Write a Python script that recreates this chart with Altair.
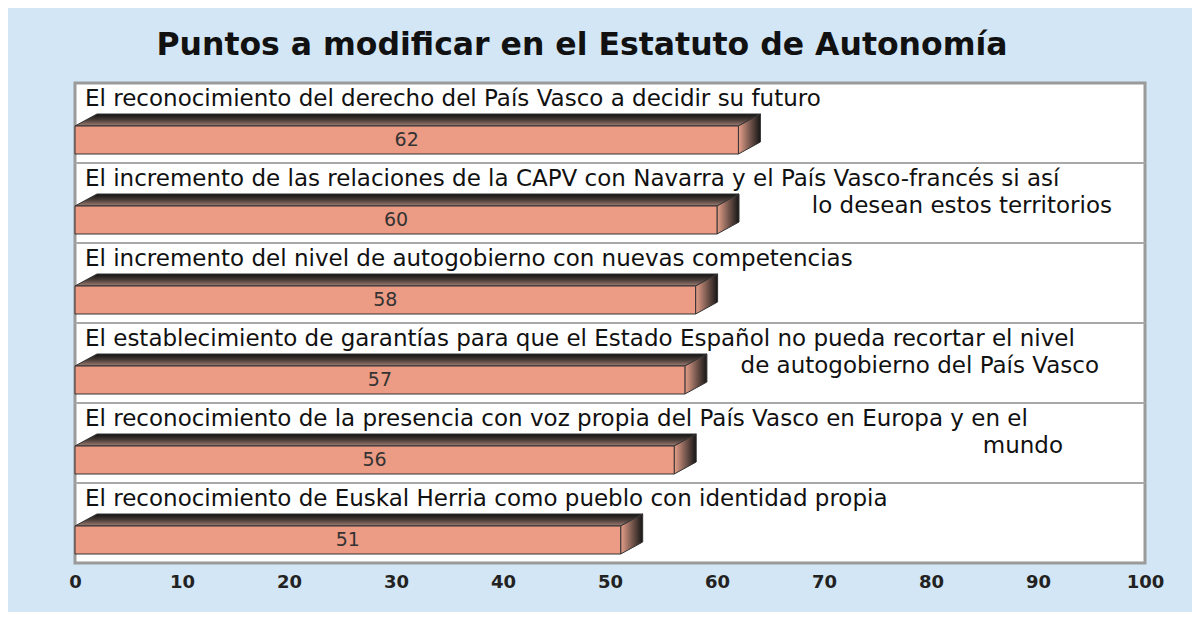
import altair as alt
import pandas as pd

# ---- data ----
label_line1 = [
    "El reconocimiento del derecho del País Vasco a decidir su futuro",
    "El incremento de las relaciones de la CAPV con Navarra y el País Vasco-francés si así",
    "El incremento del nivel de autogobierno con nuevas competencias",
    "El establecimiento de garantías para que el Estado Español no pueda recortar el nivel",
    "El reconocimiento de la presencia con voz propia del País Vasco en Europa y en el",
    "El reconocimiento de Euskal Herria como pueblo con identidad propia",
]
label_line2 = ["", "lo desean estos territorios", "", "de autogobierno del País Vasco", "mundo", ""]
values = [62, 60, 58, 57, 56, 51]
tick_values = [0, 10, 20, 30, 40, 50, 60, 70, 80, 90, 100]
title_text = "Puntos a modificar en el Estatuto de Autonomía"

# ---- layout (pixels) ----
W, H = 1070, 480
N = len(values)
BAND = H / N
DEPTH_X, DEPTH_Y = 22, 12
FRONT_TOP, FRONT_BOT = 43, 71
LINE1_BASE, LINE2_BASE = 23, 50
LINE2_RIGHT = {1: 1037, 3: 1024, 4: 988}
dx = DEPTH_X * 100 / W
f = lambda px: px / BAND

rows = list(range(N))
front = pd.DataFrame({
    "row": rows, "value": values,
    "y0": [r + f(FRONT_TOP) for r in rows],
    "y1": [r + f(FRONT_BOT) for r in rows],
    "mid": [v / 2 for v in values],
    "ymid": [r + f((FRONT_TOP + FRONT_BOT) / 2) for r in rows],
})

top_rows = []
side_rows = []
for r, v in zip(rows, values):
    top_rows.append({"row": r, "y": r + f(FRONT_TOP - DEPTH_Y), "xa": dx, "xb": v + dx})
    top_rows.append({"row": r, "y": r + f(FRONT_TOP), "xa": 0, "xb": v})
    side_rows.append({"row": r, "x": v, "ya": r + f(FRONT_TOP), "yb": r + f(FRONT_BOT)})
    side_rows.append({"row": r, "x": v + dx, "ya": r + f(FRONT_TOP - DEPTH_Y), "yb": r + f(FRONT_BOT - DEPTH_Y)})
top_df = pd.DataFrame(top_rows)
side_df = pd.DataFrame(side_rows)

seps = pd.DataFrame({"y": list(range(1, N)), "x0": 0, "x1": 100})

lab1 = pd.DataFrame({"row": rows, "text": label_line1, "y": [r + f(LINE1_BASE) for r in rows]})
lab2 = pd.DataFrame([
    {"text": label_line2[r], "y": r + f(LINE2_BASE), "px": LINE2_RIGHT[r]}
    for r in rows if label_line2[r]
])

FONT = "DejaVu Sans"
xscale = alt.Scale(domain=[0, 100], nice=False, zero=True)
yscale = alt.Scale(domain=[0, N], reverse=True, nice=False, zero=True)
xaxis = alt.Axis(values=tick_values, title=None, ticks=False, domain=False, grid=False,
                 labelFont=FONT, labelFontWeight="bold", labelFontSize=18, labelColor="#222",
                 labelPadding=10, labelFlush=False, orient="bottom")

sep_layer = alt.Chart(seps).mark_rule(color="#a8a8a8", strokeWidth=2).encode(
    x=alt.X("x0:Q", scale=xscale, axis=xaxis), x2="x1:Q",
    y=alt.Y("y:Q", scale=yscale, axis=None),
)

top_layer = alt.Chart(top_df).mark_area(
    orient="horizontal", stroke="#333", strokeWidth=1,
    fill=alt.LinearGradient(gradient="linear", x1=0, x2=0, y1=0, y2=1,
                            stops=[alt.GradientStop(color="#111111", offset=0),
                                   alt.GradientStop(color="#4a3d39", offset=0.5),
                                   alt.GradientStop(color="#a07e74", offset=1)]),
).encode(
    y=alt.Y("y:Q", scale=yscale, axis=None), x=alt.X("xa:Q", scale=xscale), x2="xb:Q",
    detail="row:N",
)

side_layer = alt.Chart(side_df).mark_area(
    orient="vertical", stroke="#333", strokeWidth=1,
    fill=alt.LinearGradient(gradient="linear", x1=0, x2=1, y1=0, y2=0,
                            stops=[alt.GradientStop(color="#e8a08a", offset=0),
                                   alt.GradientStop(color="#7a5a50", offset=0.5),
                                   alt.GradientStop(color="#151515", offset=1)]),
).encode(
    x=alt.X("x:Q", scale=xscale), y=alt.Y("ya:Q", scale=yscale, axis=None), y2="yb:Q",
    detail="row:N",
)

front_layer = alt.Chart(front).mark_rect(fill="#EC9B84", stroke="#333", strokeWidth=1).encode(
    x=alt.X("value:Q", scale=xscale), x2=alt.datum(0),
    y=alt.Y("y0:Q", scale=yscale, axis=None), y2="y1:Q",
)

value_layer = alt.Chart(front).mark_text(font=FONT, fontSize=19, color="#333", baseline="middle").encode(
    x=alt.X("mid:Q", scale=xscale), y=alt.Y("ymid:Q", scale=yscale, axis=None), text="value:Q",
)

lab1_layer = alt.Chart(lab1).mark_text(font=FONT, fontSize=23, color="#111", align="left",
                                       baseline="alphabetic").encode(
    x=alt.value(10), y=alt.Y("y:Q", scale=yscale, axis=None), text="text:N",
)

lab2_layer = alt.Chart(lab2).mark_text(font=FONT, fontSize=23, color="#111", align="right",
                                       baseline="alphabetic").encode(
    x=alt.X("px:Q", scale=None), y=alt.Y("y:Q", scale=yscale, axis=None), text="text:N",
)

chart = alt.layer(sep_layer, top_layer, side_layer, front_layer, value_layer, lab1_layer, lab2_layer).properties(
    width=W, height=H,
    title=alt.TitleParams(title_text, font=FONT, fontSize=31.5, fontWeight="bold", color="#111",
                          anchor="middle", dx=-28, offset=22),
    autosize=alt.AutoSizeParams(type="none"),
    padding={"left": 67, "top": 75, "right": 47, "bottom": 49},
).configure(background="#D2E6F5").configure_view(fill="white", stroke="#9a9a9a", strokeWidth=3)

chart.save("out.html", embed_options={"renderer": "svg", "actions": False})
